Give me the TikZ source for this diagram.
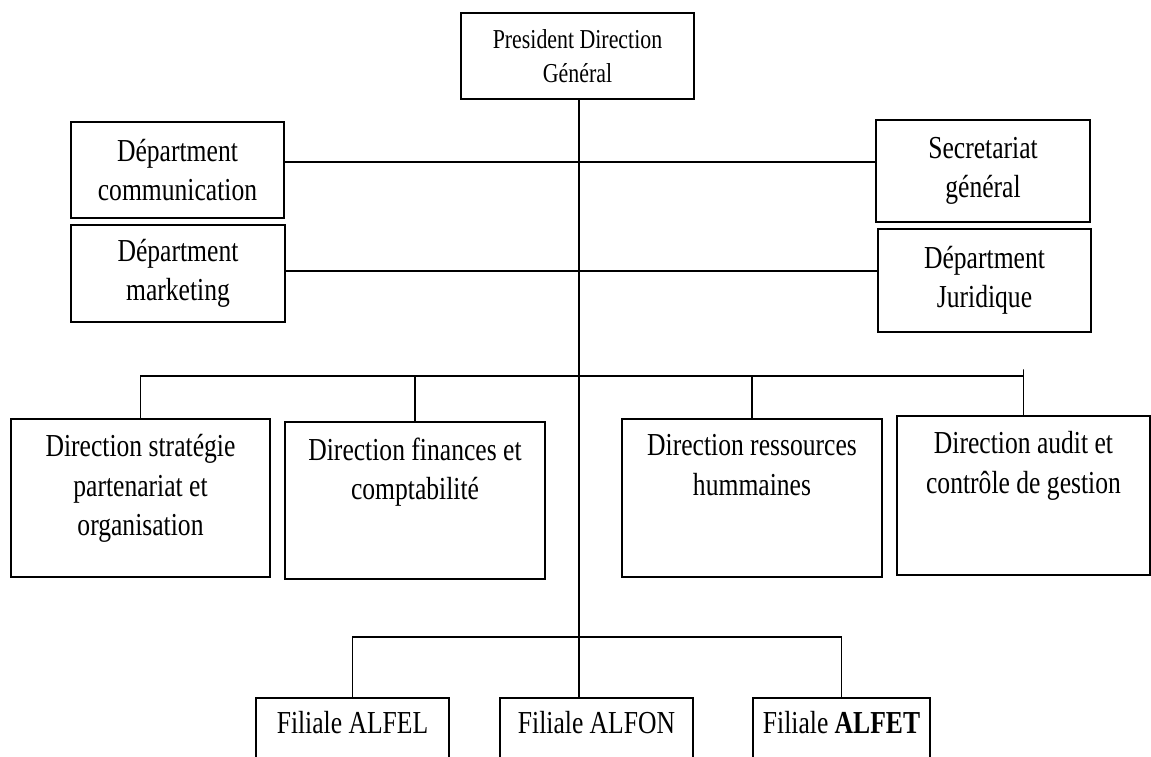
\documentclass[tikz,border=0pt]{standalone}
\usepackage{fontspec}
\setmainfont{Liberation Serif}[FakeStretch=0.8]
\usetikzlibrary{positioning}
\newcommand{\px}{0.75pt}
\tikzset{
  unitbox/.style={draw,line width=1.1pt,inner sep=0pt,align=center,
    font=\fontsize{24}{29.5}\selectfont},
  boxtext/.style={align=center,inner sep=0pt,font=\fontsize{24}{29.5}\selectfont},
  link/.style={line width=1.1pt}
}

\begin{document}
\begin{tikzpicture}[x=\px,y=-\px]
\useasboundingbox (0,0) rectangle (1151,756);
% top
\node[unitbox,minimum width=233*\px,minimum height=86*\px,
  font=\fontsize{20.5}{26}\selectfont] (pdg) at (577.5,56) {President Direction\\Général};
% staff departments
\node[unitbox,minimum width=213*\px,minimum height=96*\px] (com) at (177.5,170) {Départment\\communication};
\node[unitbox,minimum width=214*\px,minimum height=97*\px] (mkt) at (178,273.5) {Départment\\marketing};
\node[unitbox,minimum width=214*\px,minimum height=102*\px] (sec) at (983,171) {Secretariat\\général};
\node[unitbox,minimum width=213*\px,minimum height=103*\px] (jur) at (984.5,280.5) {Départment\\Juridique};
% directions
\node[unitbox,minimum width=259*\px,minimum height=158*\px] (dstrat) at (140.5,498) {};
\node[unitbox,minimum width=260*\px,minimum height=157*\px] (dfin) at (415,500.5) {};
\node[unitbox,minimum width=260*\px,minimum height=158*\px] (drh) at (752,498) {};
\node[unitbox,minimum width=253*\px,minimum height=159*\px] (daudit) at (1023.5,495.5) {};
\node[boxtext,below=12pt of dstrat.north] (dstrat-t) {Direction stratégie\\partenariat et\\organisation};
\node[boxtext,below=12pt of dfin.north] (dfin-t) {Direction finances et\\comptabilité};
\node[boxtext,below=12pt of drh.north] (drh-t) {Direction ressources\\hummaines};
\node[boxtext,below=12pt of daudit.north] (daudit-t) {Direction audit et\\contrôle de gestion};
% filiales
\node[unitbox,minimum width=193*\px,minimum height=80*\px] (fel) at (352.5,738) {};
\node[unitbox,minimum width=193*\px,minimum height=80*\px] (fon) at (596.5,738) {};
\node[unitbox,minimum width=177*\px,minimum height=80*\px] (fet) at (841.5,738) {};
\node[boxtext,below=10pt of fel.north] (fel-t) {Filiale ALFEL};
\node[boxtext,below=10pt of fon.north] (fon-t) {Filiale ALFON};
\node[boxtext,below=10pt of fet.north] (fet-t) {Filiale \textbf{ALFET}};

% connectors
\coordinate (bus) at (579,376);
\coordinate (fbus) at (579,637);
\draw[link] (pdg.south -| bus) -- (fon.north -| bus);
\draw[link] ([yshift=6pt]com.east) coordinate (c1) -- (c1 -| sec.west);
\draw[link] ([yshift=2pt]mkt.east) coordinate (c2) -- (c2 -| jur.west);
\draw[link] (dstrat.north) |- (bus) -| ([yshift=5pt]bus -| daudit.north) -- (daudit.north);
\draw[link] (dfin.north) -- (dfin.north |- bus);
\draw[link] (drh.north) -- (drh.north |- bus);
\draw[link] (fel.north) |- (fbus) -| (fet.north);
\end{tikzpicture}
\end{document}
